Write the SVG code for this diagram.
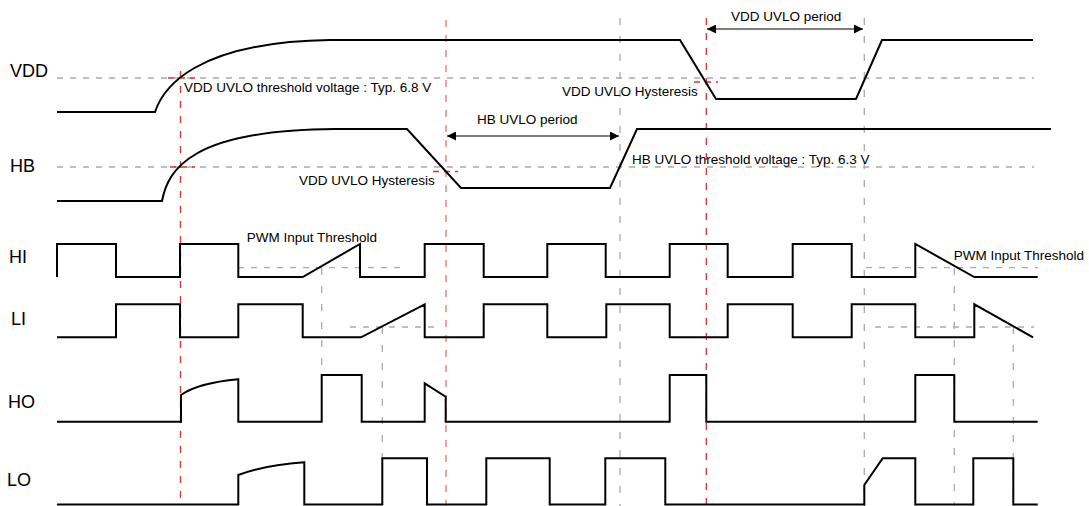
<svg xmlns="http://www.w3.org/2000/svg" width="1089" height="506" viewBox="0 0 1089 506">
<style>
.wave{fill:none;stroke:#000;stroke-width:2;stroke-linejoin:miter}
.th{fill:none;stroke:#aaa;stroke-width:1.3;stroke-dasharray:6 7}
.vg{fill:none;stroke:#aaa;stroke-width:1.3;stroke-dasharray:7 11}
.vr{fill:none;stroke:#e03030;stroke-width:1.3;stroke-dasharray:7 8}
.hr{fill:none;stroke:#e03030;stroke-width:1.3;stroke-dasharray:6 5}
.lbl{font-family:"Liberation Sans",Arial,sans-serif;font-size:18px;fill:#000}
.ann{font-family:"Liberation Sans",Arial,sans-serif;font-size:13.5px;fill:#000}
.arr{fill:none;stroke:#000;stroke-width:1.2}
</style>
<defs>
<marker id="ah" viewBox="0 0 10 10" refX="10" refY="5" markerWidth="9" markerHeight="9" markerUnits="userSpaceOnUse" orient="auto-start-reverse">
<path d="M0,0 L10,5 L0,10 z" fill="#000"/>
</marker>
</defs>
<rect width="1089" height="506" fill="#fff"/>

<g id="guides">
<path class="th" d="M57,78 H1034"/>
<path class="th" d="M57,167 H1034"/>
<path class="th" d="M238,267.7 H401"/>
<path class="th" d="M866,267.7 H1038"/>
<path class="th" d="M350,327 H440"/>
<path class="th" d="M875,327 H1034"/>
<path class="vg" d="M620,18 V506"/>
<path class="vg" d="M864.3,18 V506"/>
<path class="vg" d="M321.7,268 V375"/>
<path class="vg" d="M382.3,327 V458"/>
<path class="vg" d="M954.3,268 V506"/>
<path class="vg" d="M1013.3,327 V506"/>
<path class="vr" d="M180.5,71 V506"/>
<path class="vr" d="M446,20 V506" opacity="0.7"/>
<path class="vr" d="M706.3,18 V506"/>
<path class="hr" d="M168,78 H195"/>
<path class="hr" d="M170,167 H195"/>
<path class="hr" d="M433,171.5 H458"/>
<path class="hr" d="M694,82 H718"/>
</g>

<g id="VDD">
<text class="lbl" x="10" y="77">VDD</text>
<path class="wave" d="M57,112 H155 C163,88 195,42 330,40 H680 L716,99 H856 L882,40 H1033"/>
</g>

<g id="HB">
<text class="lbl" x="10" y="172">HB</text>
<path class="wave" d="M57,201 H162 C168,170 190,130 335,129 H407 L461,188 H610 L637,129 H1051"/>
</g>

<g id="HI">
<text class="lbl" x="9" y="263">HI</text>
<path class="wave" d="M57,277 V244 H116 V277 H180 V244 H238.3 V277 H302.7 L360,244 V277 H424.7 V244 H483.7 V277 H547.3 V244 H605.7 V277 H669.7 V244 H727.7 V277 H792.7 V244 H851.7 V277 H915.3 V244 L974.3,277 H1037.7"/>
</g>

<g id="LI">
<text class="lbl" x="11" y="325">LI</text>
<path class="wave" d="M57,337.3 H116 V304.3 H180 V337.3 H238.3 V304.3 H302.7 V337.3 H361 L424.7,304.3 V337.3 H483.7 V304.3 H547.3 V337.3 H606.3 V304.3 H669.7 V337.3 H727.7 V304.3 H792.7 V337.3 H851.7 V304.3 H915.3 V337.3 H974.3 V304.3 L1033,337.3"/>
</g>

<g id="HO">
<text class="lbl" x="8" y="408">HO</text>
<path class="wave" d="M57,421.7 H181 V395 Q198,383 238.3,379.3 V421.7 H321.7 V375 H361.7 V421.7 H424.7 V383.3 L445.7,396.7 V421.7 H669.7 V375 H706.3 V421.7 H915.3 V375 H954.3 V421.7 H1037.7"/>
</g>

<g id="LO">
<text class="lbl" x="7" y="486">LO</text>
<path class="wave" d="M57,504.5 H238.3 V475 Q265,465 304.3,462.3 V504.5 H382.3 V458.3 H427 V504.5 H486.3 V458.3 H549.7 V504.5 H605.3 V458.3 H665.3 V504.5 H864.3 V485 L882.7,458.3 H915.3 V504.5 H973.3 V458.3 H1013.3 V504.5 H1037.7"/>
</g>

<g id="connectors">
<path class="arr" d="M447,136 H619" marker-start="url(#ah)" marker-end="url(#ah)"/>
<path class="arr" d="M707,29 H863" marker-start="url(#ah)" marker-end="url(#ah)"/>
</g>

<g id="annotations">
<text class="ann" x="184" y="92">VDD UVLO threshold voltage : Typ. 6.8 V</text>
<text class="ann" x="562" y="96">VDD UVLO Hysteresis</text>
<text class="ann" x="299" y="185">VDD UVLO Hysteresis</text>
<text class="ann" x="477" y="124">HB UVLO period</text>
<text class="ann" x="731" y="21">VDD UVLO period</text>
<text class="ann" x="632" y="164">HB UVLO threshold voltage : Typ. 6.3 V</text>
<text class="ann" x="246.7" y="241.7">PWM Input Threshold</text>
<text class="ann" x="953.7" y="260">PWM Input Threshold</text>
</g>
</svg>
